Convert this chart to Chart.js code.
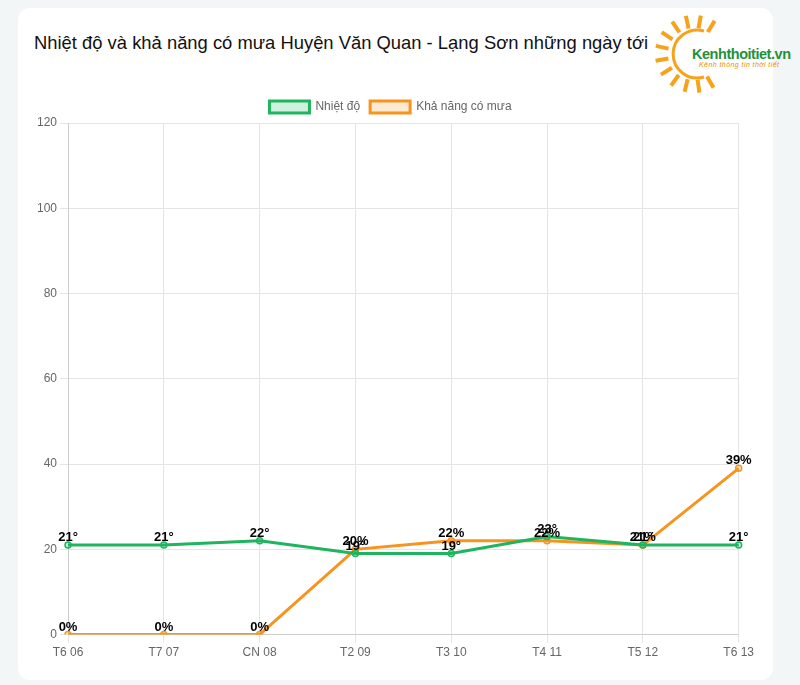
<!DOCTYPE html>
<html>
<head>
<meta charset="utf-8">
<script src="https://cdn.jsdelivr.net/npm/chart.js@4"></script>
<style>
  body { margin: 0; background: #f3f6f7; font-family: "Liberation Sans", Arial, sans-serif; }
  .card { position: absolute; left: 18px; top: 8px; width: 755px; height: 672px; background: #fff; border-radius: 12px; }
  h1 { position: absolute; left: 16px; top: 24px; margin: 0; font-size: 18.4px; font-weight: normal; color: #111; }
  .logo { position: absolute; left: 622px; top: -3px; overflow: visible; }
  .wrap { position: absolute; left: 16px; top: 83px; width: 723px; height: 572px; }
</style>
</head>
<body>
<div class="card">
  <h1>Nhiệt độ và khả năng có mưa Huyện Văn Quan - Lạng Sơn những ngày tới</h1>
  <svg class="logo" width="160" height="95" viewBox="640 5 160 95">
    <g id="rays" stroke="#f7a21b" stroke-width="4"></g>
    <path d="M 704 31 A 24 24 0 1 0 704 77" fill="none" stroke="#f7a21b" stroke-width="3"/>
    <text x="692" y="59" font-family="Liberation Sans, Arial" font-size="14.5" font-weight="bold" fill="#22913a" textLength="99">Kenhthoitiet.vn</text>
    <text x="699" y="67" font-family="Liberation Sans, Arial" font-size="7" font-style="italic" fill="#f08a00" textLength="80">Kênh thông tin thời tiết</text>
  </svg>
  <div class="wrap"><canvas id="c"></canvas></div>
</div>
<script>
// tia nắng của logo
(function () {
  const g = document.getElementById('rays');
  const cx = 694, cy = 54;
  for (let a = 58; a <= 300; a += 22) {
    const r = a * Math.PI / 180;
    const l = document.createElementNS('http://www.w3.org/2000/svg', 'line');
    l.setAttribute('x1', cx + 26 * Math.cos(r)); l.setAttribute('y1', cy - 26 * Math.sin(r));
    l.setAttribute('x2', cx + 39 * Math.cos(r)); l.setAttribute('y2', cy - 39 * Math.sin(r));
    g.appendChild(l);
  }
})();

const labels = ['T6 06', 'T7 07', 'CN 08', 'T2 09', 'T3 10', 'T4 11', 'T5 12', 'T6 13'];
const temps = [21, 21, 22, 19, 19, 23, 21, 21];
const rain = [0, 0, 0, 20, 22, 22, 21, 39];
const yTicks = [0, 20, 40, 60, 80, 100, 120];

const green = '#1fb45e';
const orange = '#f7941d';

// vẽ nhãn giá trị trên mỗi điểm
const valueLabels = {
  id: 'valueLabels',
  afterDatasetsDraw(chart) {
    const ctx = chart.ctx;
    ctx.save();
    ctx.font = 'bold 13px "Liberation Sans", Arial, sans-serif';
    ctx.fillStyle = '#000';
    ctx.textAlign = 'center';
    ctx.textBaseline = 'alphabetic';
    chart.data.datasets.forEach((ds, i) => {
      chart.getDatasetMeta(i).data.forEach((pt, j) => {
        ctx.fillText(ds.data[j] + ds.suffix, pt.x, pt.y - 4);
      });
    });
    ctx.restore();
  }
};

new Chart(document.getElementById('c'), {
  type: 'line',
  data: {
    labels: labels,
    datasets: [
      {
        label: 'Nhiệt độ',
        data: temps,
        suffix: '°',
        borderColor: green,
        backgroundColor: 'rgba(31,180,94,0.2)',
        borderWidth: 3,
        pointRadius: 3,
        pointBorderWidth: 1.5,
        pointBackgroundColor: 'rgba(31,180,94,0.2)',
        tension: 0
      },
      {
        label: 'Khả năng có mưa',
        data: rain,
        suffix: '%',
        borderColor: orange,
        backgroundColor: 'rgba(247,148,29,0.2)',
        borderWidth: 3,
        pointRadius: 3,
        pointBorderWidth: 1.5,
        pointBackgroundColor: 'rgba(247,148,29,0.2)',
        tension: 0
      }
    ]
  },
  options: {
    responsive: true,
    maintainAspectRatio: false,
    animation: false,
    layout: { padding: { right: 10 } },
    plugins: {
      legend: {
        labels: { color: '#666', font: { size: 12, family: '"Liberation Sans", Arial' }, boxWidth: 40, boxHeight: 12 }
      },
      tooltip: { enabled: false }
    },
    scales: {
      x: {
        grid: { color: '#e5e5e5' },
        ticks: { color: '#666', font: { size: 12, family: '"Liberation Sans", Arial' } }
      },
      y: {
        min: 0,
        max: 120,
        grid: { color: '#e5e5e5' },
        afterBuildTicks(axis) { axis.ticks = yTicks.map(v => ({ value: v })); },
        ticks: { color: '#666', font: { size: 12, family: '"Liberation Sans", Arial' } }
      }
    }
  },
  plugins: [valueLabels]
});
</script>
</body>
</html>
